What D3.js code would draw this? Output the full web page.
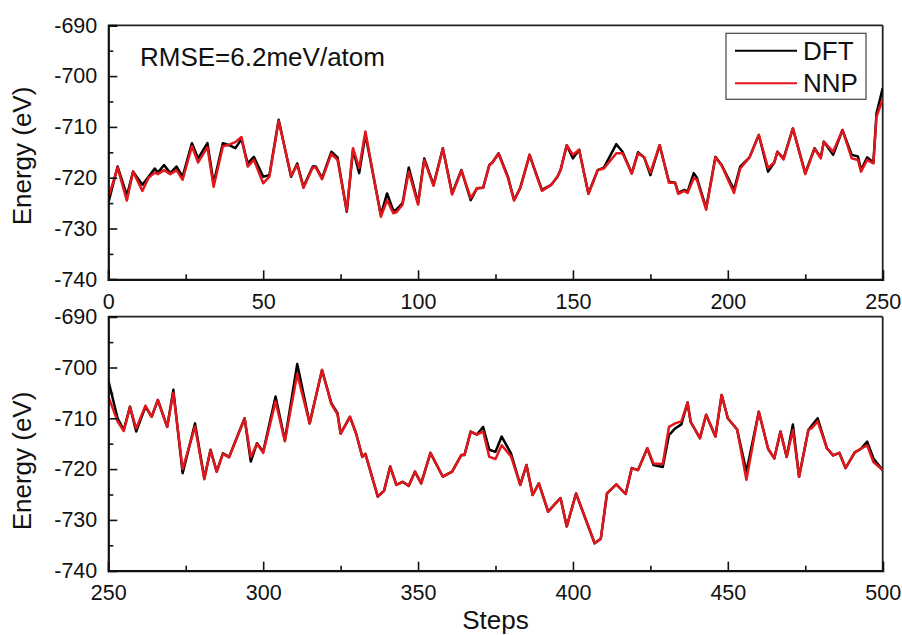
<!DOCTYPE html>
<html><head><meta charset="utf-8">
<script src="https://cdn.jsdelivr.net/npm/d3@7"></script>
<style>
html,body{margin:0;padding:0;background:#fff;}
svg{display:block;font-family:"Liberation Sans",Arial,sans-serif;}
</style></head>
<body><svg id="c" width="902" height="635"></svg>
<script>
// ---------- data ----------
const seriesNames = ["DFT", "NNP"];
const rmseText = "RMSE=6.2meV/atom";
const yTicks = [-740, -730, -720, -710, -700, -690];
const xTicksTop = [0, 50, 100, 150, 200, 250];
const xTicksBot = [250, 300, 350, 400, 450, 500];

const stepsTop = [0,3,6,8,11,13,15,16,18,20,22,24,27,29,32,34,37,39,41,43,45,47,50,52,55,59,61,63,66,67,69,72,74,77,79,81,83,88,90,92,93,95,97,100,102,105,108,111,114,117,119,121,123,124,126,129,131,133,136,138,140,143,145,146,148,150,152,155,158,160,164,166,169,171,173,175,178,181,183,184,186,187,189,190,193,196,198,202,204,207,210,213,215,216,218,221,225,228,230,231,234,237,240,242,243,245,247,248,250];
const dftTop = [-725,-717.8,-723.5,-718.8,-721.4,-719.8,-718.2,-719,-717.5,-719.1,-717.8,-719.8,-713.2,-716.2,-713.2,-721.1,-713.2,-713.6,-714.2,-712.4,-717.2,-715.9,-719.8,-719.5,-708.6,-719.8,-717.2,-721.8,-717.8,-717.8,-720.1,-714.9,-716,-726.7,-714.5,-719.1,-711.5,-727.3,-723.1,-726.5,-726.3,-725,-718,-725,-716.2,-721.4,-714.2,-723.1,-718.5,-724.4,-722.1,-722,-717.5,-717,-715.2,-719.8,-724.4,-722,-715.5,-719,-722.4,-721.4,-719.8,-718.5,-713.6,-716.2,-714.5,-723.1,-718.5,-718,-713.4,-714.9,-719.1,-715,-716,-719.5,-713.6,-720.8,-721,-723,-722.4,-722.8,-719.1,-720,-726,-715.9,-717.5,-722.4,-717.8,-716,-711.6,-718.8,-717,-714.9,-716.2,-710.3,-719.1,-714.2,-716,-712.9,-715.5,-710.6,-715.5,-715.8,-718.5,-716,-717,-707.3,-702.4];
const nnpTop = [-724,-718,-724.5,-718.8,-722.6,-720,-719,-719.3,-718.5,-719.3,-718.5,-720.4,-713.8,-717,-714,-721.8,-713.8,-713.5,-713,-712,-717.8,-716.5,-721.1,-719.8,-708.8,-719.6,-717.5,-722,-718,-718,-720.3,-715.3,-716.5,-726.5,-714.2,-718.1,-710.9,-727.7,-724.4,-727,-726.8,-725.3,-718.8,-725.3,-716.5,-721.6,-714.3,-723.3,-718.6,-724,-722.1,-722,-717.6,-717,-715.3,-720,-724.5,-722,-715.5,-719.2,-722.6,-721.4,-719.8,-718.5,-713.6,-715.5,-714.5,-723.2,-718.5,-718.2,-715.2,-715.2,-719.2,-715.2,-716,-719,-713.6,-721,-721,-723.2,-722.6,-723,-720.1,-720.4,-726.3,-716,-717.6,-723,-718.2,-716,-711.6,-718.1,-717,-714.9,-716.4,-710.3,-719.3,-714.3,-716.2,-712.9,-714.9,-710.6,-716.2,-716.5,-718.8,-716.5,-717.2,-708,-704.5];

const stepsBot = [250,253,255,257,259,262,264,266,269,271,274,278,281,283,285,287,289,294,296,298,300,304,307,311,315,319,322,324,325,328,330,332,333,337,339,341,343,345,347,349,351,354,358,361,364,365,367,369,371,373,375,377,380,383,385,387,389,392,394,396,398,401,407,409,411,414,417,419,421,424,426,429,431,433,435,437,438,441,443,446,448,450,453,456,460,463,465,467,469,471,473,476,477,479,482,484,486,488,491,493,495,497,500];
const dftBot = [-702.5,-710,-712.3,-707.7,-712.6,-707.7,-709.7,-706.4,-711.7,-704.4,-720.8,-711,-721.8,-716.2,-720.5,-716.9,-717.6,-710,-718.5,-714.9,-716.6,-705.7,-714.3,-699.3,-711,-700.5,-707,-709,-713,-709.7,-713,-717.6,-717,-725.4,-724.3,-719.5,-723.1,-722.5,-723.3,-720.5,-722.8,-716.8,-721.5,-720.5,-717.2,-717.2,-712.6,-713.2,-711.7,-716.2,-716.6,-713.6,-716.9,-723.1,-719.2,-725.1,-722.8,-728.4,-727,-725.7,-731.3,-724.8,-734.6,-733.7,-724.8,-723,-724.9,-719.8,-720.2,-715.9,-719.2,-719.6,-713.3,-712,-711.2,-706.9,-710.7,-713.9,-709.3,-713.6,-705.4,-710,-712.2,-720.5,-708.7,-716,-717.9,-712.6,-717.6,-711.2,-721.5,-712.3,-711.5,-710,-715.9,-717.3,-716.8,-719.8,-716.7,-716,-714.6,-717.9,-720.2];
const nnpBot = [-705.7,-710.6,-712.5,-707.8,-712,-707.5,-709.7,-706.4,-711.7,-705,-720,-711.6,-722,-716.3,-720.5,-717,-717.7,-710,-717.6,-715,-716.8,-706.7,-714.5,-701.3,-711,-700.5,-707.2,-709.2,-713,-709.7,-713,-717.6,-717,-725.4,-724.3,-719.5,-723.1,-722.5,-723.3,-720.5,-722.8,-716.8,-721.5,-720.5,-717.2,-717.2,-712.6,-713.2,-712.6,-717.6,-718,-715.3,-717.5,-723.1,-719.2,-725.1,-722.8,-728.4,-727,-725.7,-731.3,-724.8,-734.6,-733.7,-724.8,-723,-724.9,-719.8,-720.2,-715.9,-718.9,-719,-711.7,-711,-710.6,-706.9,-710.7,-713.9,-709.3,-713.6,-705.4,-710,-712.2,-722.1,-708.7,-716,-717.9,-712.6,-717.6,-712.3,-721.5,-712.3,-712,-710.6,-715.9,-717.3,-716.8,-719.8,-716.7,-716,-715.3,-718.6,-720.2];

// ---------- layout ----------
const svg = d3.select("#c");
const L = 108.3, R = 882.7;
const panels = [
  {top: 25.3, bottom: 279.3, domain: [0, 250], ticks: xTicksTop, steps: stepsTop, dft: dftTop, nnp: nnpTop, labelY: 156},
  {top: 316.7, bottom: 570.7, domain: [250, 500], ticks: xTicksBot, steps: stepsBot, dft: dftBot, nnp: nnpBot, labelY: 461}
];
const colors = {DFT: "#000000", NNP: "#e3161b"};

panels.forEach((p, i) => {
  const x = d3.scaleLinear().domain(p.domain).range([L, R]);
  const y = d3.scaleLinear().domain([-740, -690]).range([p.bottom, p.top]);
  const g = svg.append("g");

  g.append("line").attr("x1", L).attr("x2", R).attr("y1", p.top).attr("y2", p.top)
    .attr("stroke", "#222").attr("stroke-width", 1.8);
  g.append("line").attr("x1", R).attr("x2", R).attr("y1", p.top).attr("y2", p.bottom)
    .attr("stroke", "#222").attr("stroke-width", 1.8);

  const lineGen = d3.line().x(d => x(d[0])).y(d => y(d[1]));
  const clipId = "clip" + i;
  svg.append("clipPath").attr("id", clipId).append("rect")
    .attr("x", L).attr("y", p.top).attr("width", R - L).attr("height", p.bottom - p.top);
  const dataD = p.steps.map((s, k) => [s, p.dft[k]]);
  const dataN = p.steps.map((s, k) => [s, p.nnp[k]]);
  g.append("path").datum(dataD).attr("d", lineGen).attr("fill", "none")
    .attr("stroke", colors.DFT).attr("stroke-width", 2.5).attr("stroke-linejoin", "round")
    .attr("clip-path", `url(#${clipId})`);
  g.append("path").datum(dataN).attr("d", lineGen).attr("fill", "none")
    .attr("stroke", colors.NNP).attr("stroke-width", 2.5).attr("stroke-linejoin", "round")
    .attr("clip-path", `url(#${clipId})`);

  const minorX = d3.range(p.domain[0] + 25, p.domain[1], 50);
  g.append("g").attr("transform", `translate(0,${p.bottom})`)
    .call(d3.axisBottom(x).tickValues(p.ticks).tickSize(-9).tickPadding(14).tickFormat(d => String(d)));
  g.append("g").attr("transform", `translate(0,${p.bottom})`)
    .call(d3.axisBottom(x).tickValues(minorX).tickSize(-5).tickFormat(""))
    .call(a => a.select(".domain").remove());
  const minorY = d3.range(-735, -690, 10);
  g.append("g").attr("transform", `translate(${L},0)`)
    .call(d3.axisLeft(y).tickValues(yTicks).tickSize(-9).tickPadding(11).tickFormat(d => String(d)));
  g.append("g").attr("transform", `translate(${L},0)`)
    .call(d3.axisLeft(y).tickValues(minorY).tickSize(-5).tickFormat(""))
    .call(a => a.select(".domain").remove());

  g.selectAll(".domain").attr("stroke", "#111").attr("stroke-width", 2.2);
  g.selectAll(".tick line").attr("stroke", "#111").attr("stroke-width", 1.6);
  g.selectAll(".tick text").attr("font-size", 21.5).attr("fill", "#111")
    .attr("font-family", "Liberation Sans, Arial, sans-serif");

  g.append("text").attr("transform", `translate(31,${p.labelY}) rotate(-90)`)
    .attr("text-anchor", "middle").attr("font-size", 26).attr("fill", "#111")
    .text("Energy (eV)");
});

svg.append("text").attr("x", (L + R) / 2).attr("y", 629).attr("text-anchor", "middle")
  .attr("font-size", 26).attr("fill", "#111").text("Steps");

svg.append("text").attr("x", 140).attr("y", 66).attr("font-size", 26).attr("fill", "#111").text(rmseText);

const lg = svg.append("g");
lg.append("rect").attr("x", 726).attr("y", 33.3).attr("width", 140).attr("height", 66)
  .attr("fill", "#fff").attr("stroke", "#444").attr("stroke-width", 1.2);
seriesNames.forEach((n, k) => {
  const yy = 50.7 + k * 32.6;
  lg.append("line").attr("x1", 735).attr("x2", 797).attr("y1", yy).attr("y2", yy)
    .attr("stroke", colors[n]).attr("stroke-width", 2);
  lg.append("text").attr("x", 803).attr("y", yy + 9).attr("font-size", 26).attr("fill", "#111").text(n);
});
</script></body></html>
